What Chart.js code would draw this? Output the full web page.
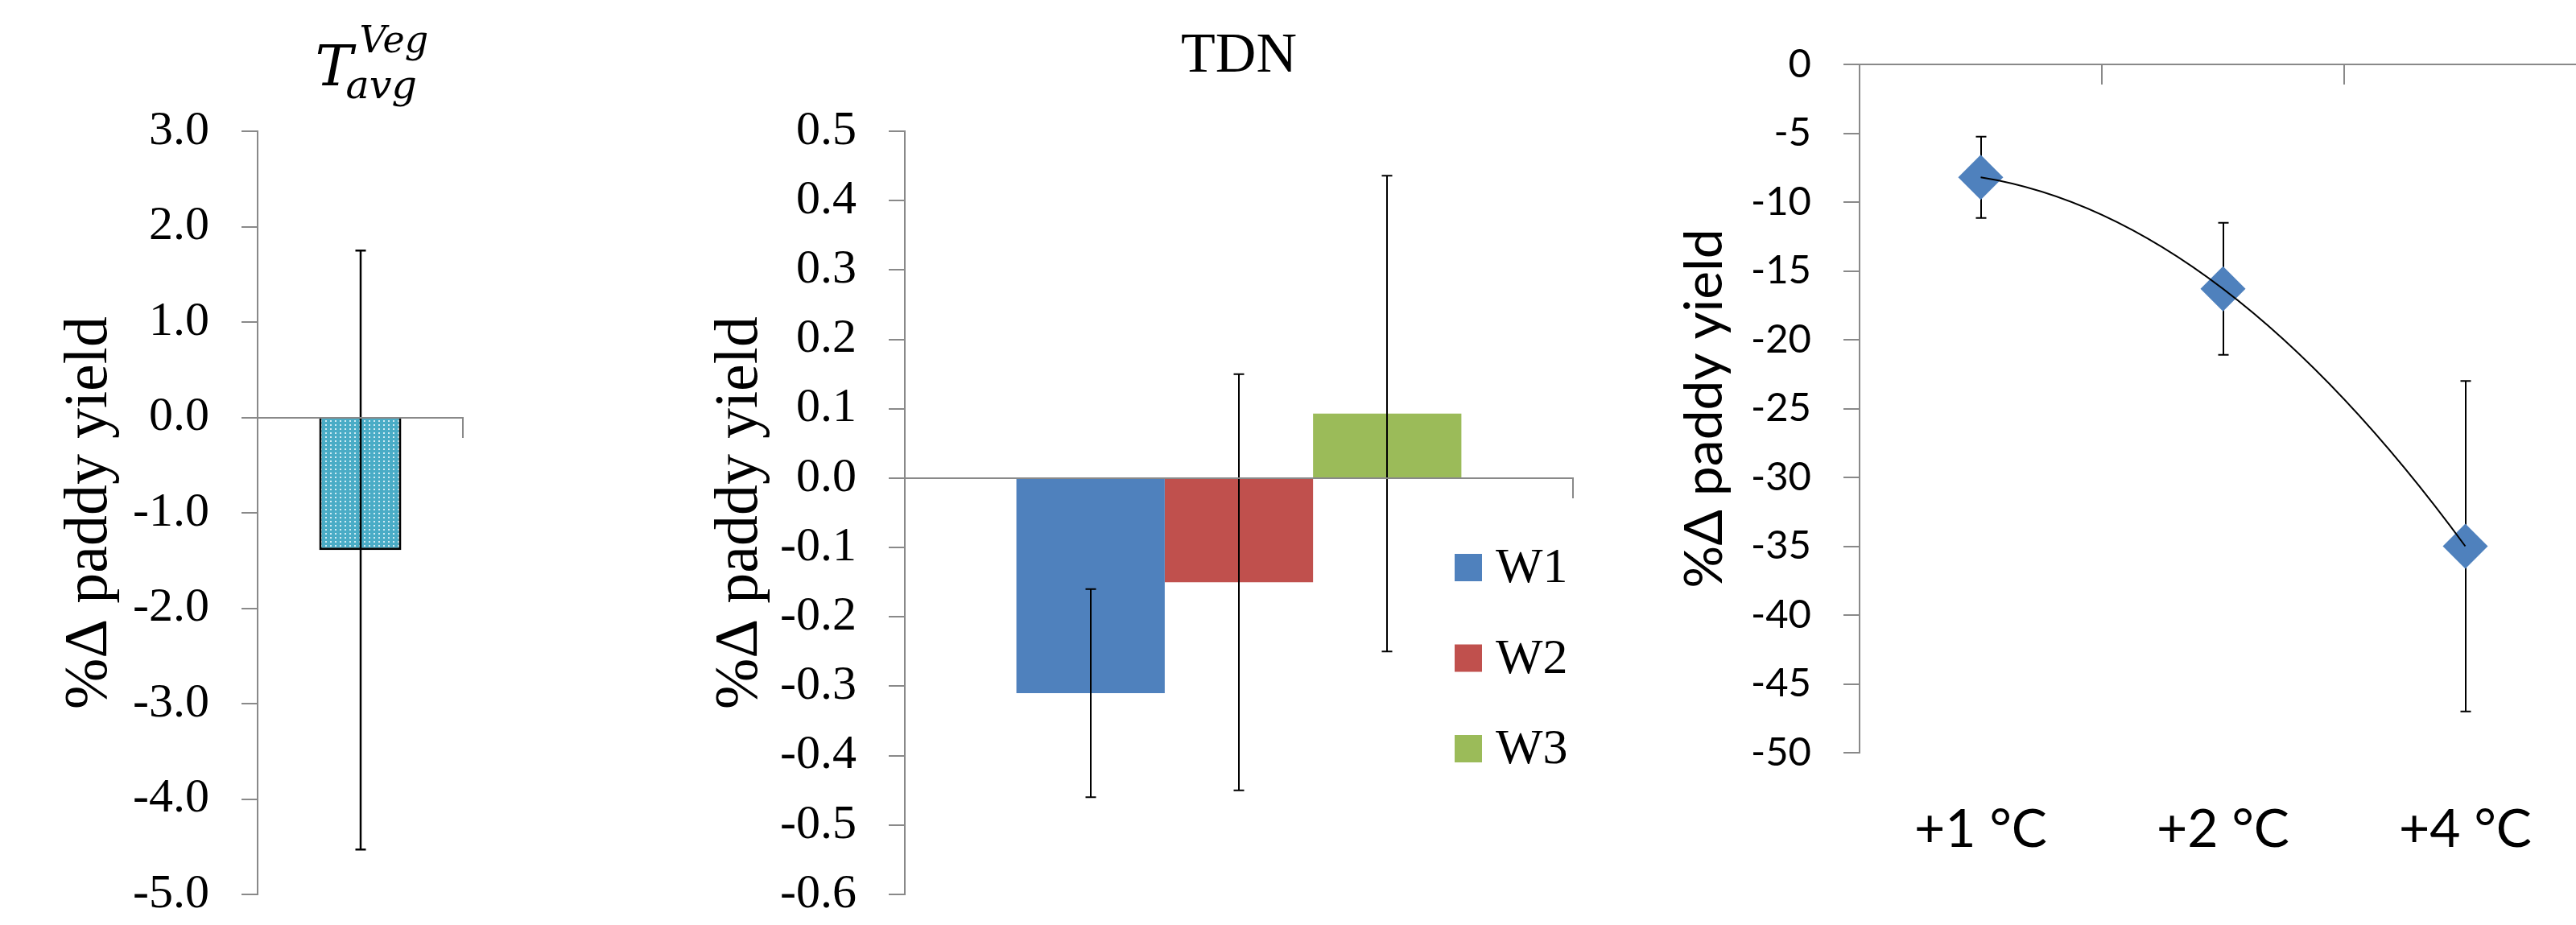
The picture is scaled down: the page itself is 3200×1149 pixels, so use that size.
<!DOCTYPE html>
<html><head><meta charset="utf-8">
<script src="https://cdn.jsdelivr.net/npm/chart.js@4.4.1/dist/chart.umd.min.js"></script>
<style>
html,body{margin:0;padding:0;background:#fff;overflow:hidden;width:3200px;height:1149px;position:relative;}
canvas{position:absolute;top:0;}
</style></head><body>
<canvas id="c1" width="700" height="1149" style="left:0px;width:700px;height:1149px"></canvas>
<canvas id="c2" width="1300" height="1149" style="left:700px;width:1300px;height:1149px"></canvas>
<canvas id="c3" width="1250" height="1149" style="left:2000px;width:1250px;height:1149px"></canvas>
<script>
// ---------- data ----------
const tavgCategories = [''];
const tavgValues = [-1.39];
const tavgErrors = [3.14];
const tavgAxis = [-5, 3, 1];          // min, max, step

const tdnCategories = [''];
const tdnSeries = ['W1', 'W2', 'W3'];
const tdnValues = [-0.31, -0.15, 0.093];
const tdnErrors = [0.15, 0.30, 0.343];
const tdnAxis = [-0.6, 0.5, 0.1];

const warmCategories = ['+1 °C', '+2 °C', '+4 °C'];
const warmValues = [-8.2, -16.3, -35.0];
const warmErrors = [2.95, 4.8, 12.0];
const warmAxis = [-50, 0, 5];

// ---------- styling ----------
const AXIS = '#898989';
const SERIF = '"Liberation Serif", "Times New Roman", serif';
const SANS = 'Lato, "Open Sans", sans-serif';
const SERIES_COLORS = ['#4f81bd', '#c0504d', '#9bbb59'];
Chart.defaults.color = '#000';

function drawErrorBars(chart, opts) {
  const ctx = chart.ctx, ys = chart.scales.y, cap = opts.cap || 6.5;
  ctx.save();
  ctx.strokeStyle = '#000';
  ctx.lineWidth = opts.width || 2;
  chart.data.datasets.forEach((ds, i) => {
    if (!ds.errors) return;
    const meta = chart.getDatasetMeta(i);
    meta.data.forEach((el, j) => {
      const v = ds.data[j], e = ds.errors[j];
      const x = Math.round(el.x);
      const yt = ys.getPixelForValue(v + e), yb = ys.getPixelForValue(v - e);
      ctx.beginPath();
      ctx.moveTo(x, yt); ctx.lineTo(x, yb);
      ctx.moveTo(x - cap, yt); ctx.lineTo(x + cap, yt);
      ctx.moveTo(x - cap, yb); ctx.lineTo(x + cap, yb);
      ctx.stroke();
    });
  });
  ctx.restore();
}
const errorBarPlugin = {
  id: 'errorBars',
  beforeDatasetsDraw(chart, args, opts) { if (opts.behind) drawErrorBars(chart, opts); },
  afterDatasetsDraw(chart, args, opts) { if (!opts.behind) drawErrorBars(chart, opts); }
};

function yAxis(range, font, tickFmt, titleFont, titlePad, width) {
  return {
    min: range[0], max: range[1],
    ticks: { stepSize: range[2], padding: 40, color: '#000', font: font, callback: tickFmt },
    grid: { drawOnChartArea: false, drawTicks: true, tickLength: 20, color: AXIS, lineWidth: 2 },
    border: { display: true, color: AXIS, width: 2 },
    title: { display: true, text: '%Δ paddy yield', color: '#000', font: titleFont, padding: { top: titlePad, bottom: 0 } },
    afterFit: s => { s.width = width; s.paddingTop = 0; s.paddingBottom = 0; }
  };
}
function zeroXAxis(extra) {
  return Object.assign({
    type: 'category', axis: 'x', position: { y: 0 }, offset: true,
    ticks: { display: false },
    grid: { display: true, offset: true, drawOnChartArea: false, drawTicks: true, tickLength: 24, color: AXIS, lineWidth: 2 },
    border: { display: true, color: AXIS, width: 2, z: 1 },
    afterFit: s => { s.height = 0; s.paddingLeft = 0; s.paddingRight = 0; }
  }, extra || {});
}

// ---------- chart 1 : T_avg^Veg ----------
(function () {
  const cv = document.getElementById('c1');
  const ctx = cv.getContext('2d');
  const tile = document.createElement('canvas');
  tile.width = 6; tile.height = 5;
  const g = tile.getContext('2d');
  g.fillStyle = '#4aacc6'; g.fillRect(0, 0, 6, 5);
  g.fillStyle = '#d2ecf4'; g.fillRect(2, 2, 2, 2);
  const pattern = ctx.createPattern(tile, 'repeat');

  const titlePlugin = {
    id: 'mathTitle',
    afterDraw(chart) {
      const c = chart.ctx, cx = (chart.chartArea.left + chart.chartArea.right) / 2;
      c.save();
      c.fillStyle = '#000';
      c.textBaseline = 'alphabetic';
      c.textAlign = 'left';
      c.font = 'italic 70px "DejaVu Serif"';
      c.fillText('T', cx - 56, 106);
      c.font = 'italic 46px "DejaVu Serif"';
      c.fillText('Veg', cx - 1, 65);
      c.font = 'italic 49px "DejaVu Serif"';
      c.fillText('avg', cx - 18, 122);
      c.restore();
    }
  };

  new Chart(cv, {
    type: 'bar',
    data: {
      labels: tavgCategories,
      datasets: [{
        label: 'Tavg', data: tavgValues, errors: tavgErrors,
        backgroundColor: pattern, borderColor: '#000', borderWidth: 3,
        barPercentage: 1, categoryPercentage: 0.4
      }]
    },
    options: {
      responsive: false, animation: false, devicePixelRatio: 1,
      layout: { padding: { left: 0, right: 125, top: 163, bottom: 38 }, autoPadding: false },
      plugins: { legend: { display: false }, tooltip: { enabled: false }, errorBars: { cap: 6.5, width: 2.5 } },
      scales: {
        x: zeroXAxis(),
        y: yAxis(tavgAxis, { family: SERIF, size: 60 }, v => v.toFixed(1), { family: SERIF, size: 76 }, 66, 320)
      }
    },
    plugins: [errorBarPlugin, titlePlugin]
  });
})();

// ---------- chart 2 : TDN ----------
(function () {
  const legendPlugin = {
    id: 'insideLegend',
    afterDraw(chart) {
      const c = chart.ctx, a = chart.chartArea;
      c.save();
      c.font = '62px ' + SERIF;
      c.textBaseline = 'middle';
      c.textAlign = 'left';
      chart.data.datasets.forEach((ds, i) => {
        const yc = a.top + 542 + i * 112.5;
        c.fillStyle = ds.backgroundColor;
        c.fillRect(a.right - 147, yc - 17, 34, 34);
        c.fillStyle = '#000';
        c.fillText(ds.label, a.right - 96, yc + 2);
      });
      c.restore();
    }
  };
  new Chart(document.getElementById('c2'), {
    type: 'bar',
    data: {
      labels: tdnCategories,
      datasets: tdnSeries.map((name, i) => ({
        label: name, data: [tdnValues[i]], errors: [tdnErrors[i]],
        backgroundColor: SERIES_COLORS[i], borderWidth: 0,
        barPercentage: 1, categoryPercentage: 0.666
      }))
    },
    options: {
      responsive: false, animation: false, devicePixelRatio: 1,
      layout: { padding: { left: 0, right: 46, top: 0, bottom: 38 }, autoPadding: false },
      plugins: {
        legend: { display: false }, tooltip: { enabled: false },
        title: { display: true, text: 'TDN', color: '#000', fullSize: false, font: { family: SERIF, size: 70, weight: 'normal', lineHeight: 1.2 }, padding: { top: 29, bottom: 50 } },
        errorBars: { cap: 6.5, width: 2 }
      },
      scales: {
        x: zeroXAxis(),
        y: yAxis(tdnAxis, { family: SERIF, size: 60 }, v => v.toFixed(1), { family: SERIF, size: 76 }, 174, 424)
      }
    },
    plugins: [errorBarPlugin, legendPlugin]
  });
})();

// ---------- chart 3 : warming scenarios ----------
(function () {
  const trendPlugin = {
    id: 'polyTrend',
    afterDatasetsDraw(chart) {
      const pts = chart.getDatasetMeta(0).data;
      if (pts.length < 3) return;
      const [p0, p1, p2] = pts;
      const c = chart.ctx;
      // order-2 polynomial through the three points (equally spaced categories)
      const cx = 2 * p1.x - (p0.x + p2.x) / 2, cy = 2 * p1.y - (p0.y + p2.y) / 2;
      c.save();
      c.strokeStyle = '#000';
      c.lineWidth = 2;
      c.beginPath();
      c.moveTo(p0.x, p0.y);
      c.quadraticCurveTo(cx, cy, p2.x, p2.y);
      c.stroke();
      c.restore();
    }
  };
  new Chart(document.getElementById('c3'), {
    type: 'line',
    data: {
      labels: warmCategories,
      datasets: [{
        label: '%Δ paddy yield', data: warmValues, errors: warmErrors,
        showLine: false, pointStyle: 'rectRot', pointRadius: 28, pointHoverRadius: 28,
        pointBackgroundColor: '#4f81bd', pointBorderColor: '#4f81bd', pointBorderWidth: 0,
        xAxisID: 'x', yAxisID: 'y'
      }]
    },
    options: {
      responsive: false, animation: false, devicePixelRatio: 1,
      layout: { padding: { left: 0, right: 37, top: 80, bottom: 64 }, autoPadding: false },
      plugins: { legend: { display: false }, tooltip: { enabled: false }, errorBars: { cap: 6.5, width: 2, behind: true } },
      scales: {
        x: {
          type: 'category', position: 'bottom', offset: true,
          grid: { display: false }, border: { display: false },
          ticks: { padding: 48, color: '#000', font: { family: SANS, size: 66 }, maxRotation: 0, autoSkip: false },
          afterFit: s => { s.height = 150; s.paddingLeft = 0; s.paddingRight = 0; }
        },
        xTop: zeroXAxis({ border: { display: true, color: AXIS, width: 2 } }),
        y: yAxis(warmAxis, { family: SANS, size: 49 }, v => String(v), { family: SANS, size: 66 }, 78, 310)
      }
    },
    plugins: [errorBarPlugin, trendPlugin]
  });
})();
</script>
</body></html>
